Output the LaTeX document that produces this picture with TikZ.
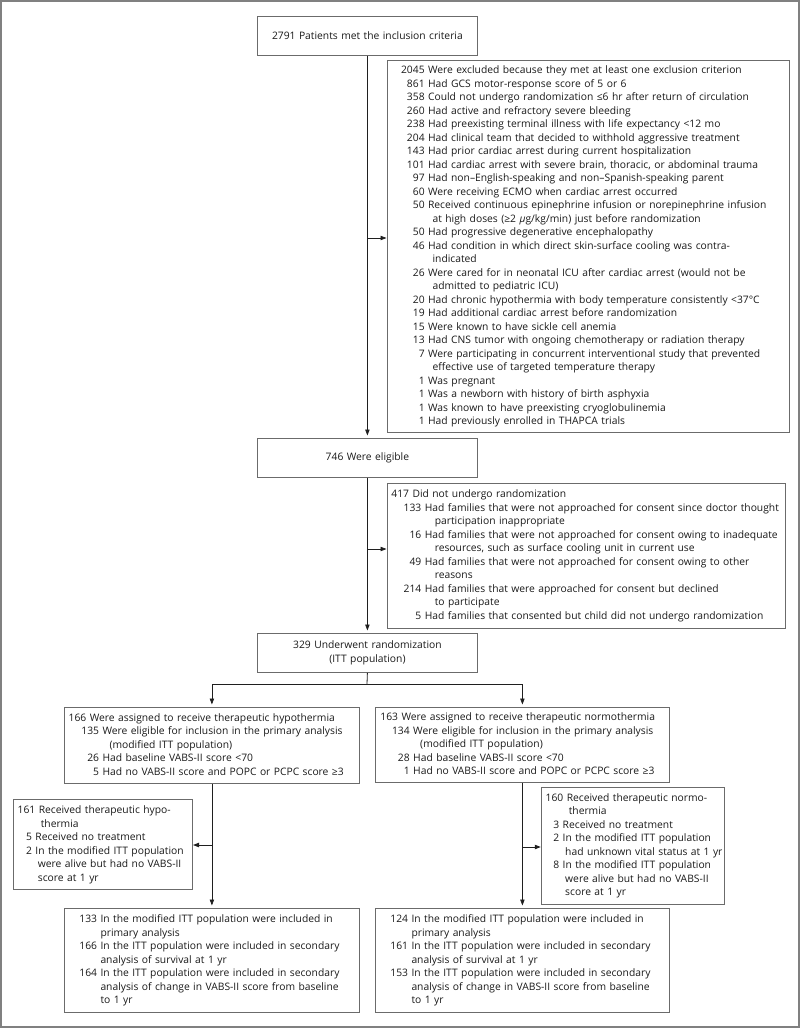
\documentclass[tikz,border=0pt]{standalone}
\usepackage{fontspec}
\setmainfont{Open Sans}
\usetikzlibrary{arrows.meta}
\definecolor{boxgray}{gray}{0.42}
\definecolor{framegray}{gray}{0.5}
\definecolor{txt}{gray}{0.1}
\definecolor{linecol}{gray}{0.12}
\newcommand{\fs}{\fontsize{10.3}{13.5}\selectfont}
\begin{document}
\begin{tikzpicture}[x=1pt,y=-1pt,
  box/.style={draw=boxgray, line width=0.8pt, anchor=north west, inner sep=0pt, font=\fs, text=txt},
  lbox/.style={box, align=left},
  cbox/.style={box, align=center},
  conn/.style={draw=linecol, line width=0.8pt},
  arr/.style={conn, -{Triangle[length=6pt,width=4.4pt]}},
  varr/.style={arr, shorten >=2.5pt},
  harr/.style={arr, shorten >=0.5pt}]
\useasboundingbox (0,0) rectangle (800,1028);
\draw[framegray, line width=2pt] (1,1) rectangle (799,1027);

% top boxes
\node[cbox, text width=220pt, minimum height=39pt] (b1) at (257,16) {2791 Patients met the inclusion criteria};

\node[lbox, text width=402pt, minimum height=372pt] (excl) at (387,60) {\noindent\hspace*{13.7pt}\begin{tabular}{@{}r@{\ }l@{}}
2045 & Were excluded because they met at least one exclusion criterion\\
861 & Had GCS motor-response score of 5 or 6\\
358 & Could not undergo randomization ≤6 hr after return of circulation\\
260 & Had active and refractory severe bleeding\\
238 & Had preexisting terminal illness with life expectancy <12 mo\\
204 & Had clinical team that decided to withhold aggressive treatment\\
143 & Had prior cardiac arrest during current hospitalization\\
101 & Had cardiac arrest with severe brain, thoracic, or abdominal trauma\\
97 & Had non–English-speaking and non–Spanish-speaking parent\\
60 & Were receiving ECMO when cardiac arrest occurred\\
50 & Received continuous epinephrine infusion or norepinephrine infusion\\
 & \hspace{4.5pt}at high doses (≥2 \textit{μ}g/kg/min) just before randomization\\
50 & Had progressive degenerative encephalopathy\\
46 & Had condition in which direct skin-surface cooling was contra-\\
 & \hspace{4.5pt}indicated\\
26 & Were cared for in neonatal ICU after cardiac arrest (would not be\\
 & \hspace{4.5pt}admitted to pediatric ICU)\\
20 & Had chronic hypothermia with body temperature consistently <37°C\\
19 & Had additional cardiac arrest before randomization\\
15 & Were known to have sickle cell anemia\\
13 & Had CNS tumor with ongoing chemotherapy or radiation therapy\\
7 & Were participating in concurrent interventional study that prevented\\
 & \hspace{4.5pt}effective use of targeted temperature therapy\\
1 & Was pregnant\\
1 & Was a newborn with history of birth asphyxia\\
1 & Was known to have preexisting cryoglobulinemia\\
1 & Had previously enrolled in THAPCA trials
\end{tabular}};

\node[cbox, text width=220pt, minimum height=39pt] (b746) at (257,438) {746 Were eligible};

\node[lbox, text width=398pt, minimum height=145pt] (r417) at (387,483) {\noindent\hspace*{4pt}\begin{tabular}{@{\hspace{12.3pt}}r@{\ }l@{}}
\multicolumn{2}{@{}l@{}}{417 Did not undergo randomization}\\
133 & Had families that were not approached for consent since doctor thought\\
 & \hspace{10pt}participation inappropriate\\
16 & Had families that were not approached for consent owing to inadequate\\
 & \hspace{10pt}resources, such as surface cooling unit in current use\\
49 & Had families that were not approached for consent owing to other\\
 & \hspace{10pt}reasons\\
214 & Had families that were approached for consent but declined\\
 & \hspace{10pt}to participate\\
5 & Had families that consented but child did not undergo randomization
\end{tabular}};

\node[cbox, text width=220pt, minimum height=39pt] (b329) at (257,633) {329 Underwent randomization\\(ITT population)};

% arms
\node[lbox, text width=295pt, minimum height=76pt] (hypo) at (64,707) {\noindent\hspace*{4.3pt}\begin{tabular}{@{\hspace{12.7pt}}r@{\ }l@{}}
\multicolumn{2}{@{}l@{}}{166 Were assigned to receive therapeutic hypothermia}\\
135 & Were eligible for inclusion in the primary analysis\\
 & \hspace{7pt}(modified ITT population)\\
26 & Had baseline VABS-II score <70\\
5 & Had no VABS-II score and POPC or PCPC score ≥3
\end{tabular}};

\node[lbox, text width=294pt, minimum height=75pt] (normo) at (375,707) {\noindent\hspace*{5pt}\begin{tabular}{@{\hspace{11.7pt}}r@{\ }l@{}}
\multicolumn{2}{@{}l@{}}{163 Were assigned to receive therapeutic normothermia}\\
134 & Were eligible for inclusion in the primary analysis\\
 & \hspace{7pt}(modified ITT population)\\
28 & Had baseline VABS-II score <70\\
1 & Had no VABS-II score and POPC or PCPC score ≥3
\end{tabular}};

\node[lbox, text width=178.4pt, minimum height=89.7pt] (recvL) at (13.3,799.3) {\noindent\hspace*{4pt}\begin{tabular}{@{\hspace{8.4pt}}r@{\ }l@{}}
\multicolumn{2}{@{}l@{}}{161 Received therapeutic hypo-}\\
\multicolumn{2}{@{}l@{}}{\hphantom{161}\ \hspace{2pt}thermia}\\
5 & Received no treatment\\
2 & In the modified ITT population\\
 & \hspace{2.5pt}were alive but had no VABS-II\\
 & \hspace{2.5pt}score at 1 yr
\end{tabular}};

\node[lbox, text width=182.7pt, minimum height=117.5pt] (recvR) at (541.3,786.5) {\noindent\hspace*{4pt}\begin{tabular}{@{\hspace{7.7pt}}r@{\ }l@{}}
\multicolumn{2}{@{}l@{}}{160 Received therapeutic normo-}\\
\multicolumn{2}{@{}l@{}}{\hphantom{160}\ \hspace{2pt}thermia}\\
3 & Received no treatment\\
2 & In the modified ITT population\\
 & \hspace{2.5pt}had unknown vital status at 1 yr\\
8 & In the modified ITT population\\
 & \hspace{2.5pt}were alive but had no VABS-II\\
 & \hspace{2.5pt}score at 1 yr
\end{tabular}};

\node[lbox, text width=295pt, minimum height=104pt] (botL) at (64,908) {\noindent\hspace*{15pt}\begin{tabular}{@{}r@{\ }l@{}}
133 & In the modified ITT population were included in\\
 & primary analysis\\
166 & In the ITT population were included in secondary\\
 & analysis of survival at 1 yr\\
164 & In the ITT population were included in secondary\\
 & analysis of change in VABS-II score from baseline\\
 & to 1 yr
\end{tabular}};

\node[lbox, text width=294pt, minimum height=104pt] (botR) at (375,908) {\noindent\hspace*{15pt}\begin{tabular}{@{}r@{\ }l@{}}
124 & In the modified ITT population were included in\\
 & primary analysis\\
161 & In the ITT population were included in secondary\\
 & analysis of survival at 1 yr\\
153 & In the ITT population were included in secondary\\
 & analysis of change in VABS-II score from baseline\\
 & to 1 yr
\end{tabular}};

% connectors
\coordinate (j1) at (367,238);
\coordinate (j2) at (367,549);
\coordinate (split) at (367,684);
\coordinate (j3) at (211.5,845);
\coordinate (j4) at (522,847);

\draw[varr] (b1.south) -- (b746.north);
\draw[harr] (j1) -- (j1 -| excl.west);
\draw[varr] (b746.south) -- (b329.north);
\draw[harr] (j2) -- (j2 -| r417.west);
\draw[conn] (b329.south) -- (split);
\draw[varr] (split) -| (hypo.north);
\draw[varr] (split) -| (normo.north);
\draw[varr] (hypo.south) -- (botL.north);
\draw[harr] (j3) -- (j3 -| recvL.east);
\draw[varr] (normo.south) -- (botR.north);
\draw[harr] (j4) -- (j4 -| recvR.west);
\end{tikzpicture}
\end{document}
